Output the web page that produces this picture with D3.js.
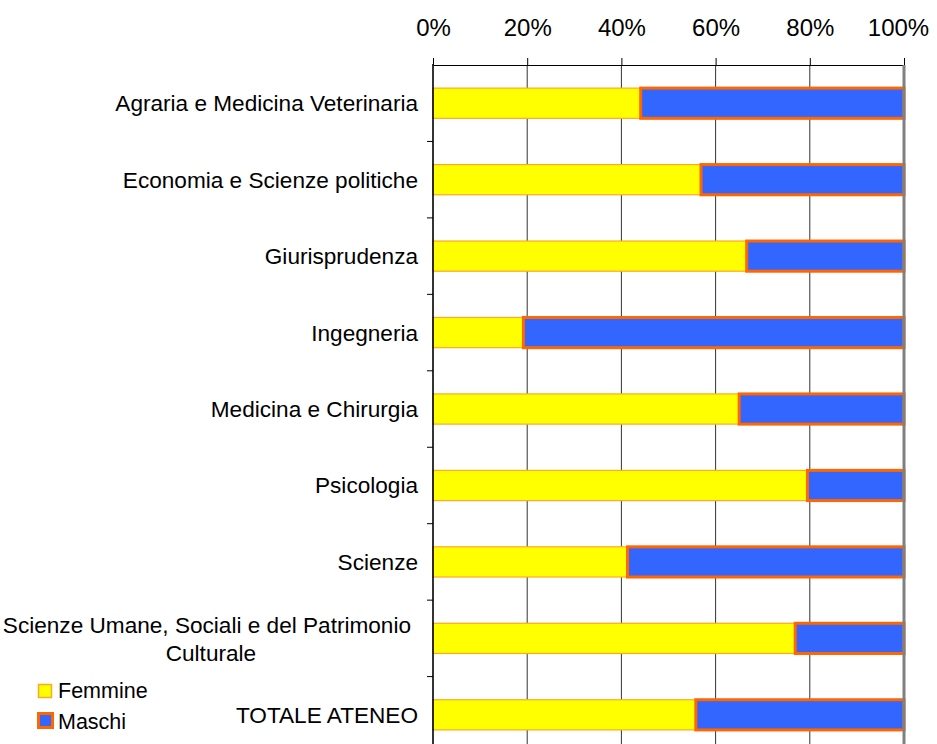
<!DOCTYPE html>
<html>
<head>
<meta charset="utf-8">
<script src="https://cdn.jsdelivr.net/npm/d3@7"></script>
<style>
  html, body { margin: 0; padding: 0; background: #fff; }
  svg { display: block; font-family: "Liberation Sans", Arial, sans-serif; }
</style>
</head>
<body>
<svg id="chart" width="937" height="744"></svg>
<script>
const categories = [
  "Agraria e Medicina Veterinaria",
  "Economia e Scienze politiche",
  "Giurisprudenza",
  "Ingegneria",
  "Medicina e Chirurgia",
  "Psicologia",
  "Scienze",
  "Scienze Umane, Sociali e del Patrimonio|Culturale",
  "TOTALE ATENEO"
];
const femmine = [44.1, 56.9, 66.6, 19.2, 65.0, 79.5, 41.3, 76.9, 55.8];
const maschi  = [55.9, 43.1, 33.4, 80.8, 35.0, 20.5, 58.7, 23.1, 44.2];
const tickValues = [0, 20, 40, 60, 80, 100];
const seriesNames = ["Femmine", "Maschi"];

(function () {
const svg = d3.select("#chart");
const mLeft = 433, mRight = 904, mTop = 65;
const step = 76.45;
const x = d3.scaleLinear().domain([0, 100]).range([mLeft, mRight]);
const y = d3.scaleBand().domain(d3.range(categories.length))
  .range([mTop, mTop + step * categories.length]).padding(0);
const barH = y.bandwidth() * 0.395;

// gridlines
svg.append("g").selectAll("line")
  .data(tickValues.filter(v => v > 0 && v < 100))
  .join("line")
  .attr("x1", d => x(d)).attr("x2", d => x(d))
  .attr("y1", mTop).attr("y2", 744)
  .attr("stroke", "#333").attr("stroke-width", 1);

// top axis
const xAxis = d3.axisTop(x).tickValues(tickValues).tickFormat(d => d + "%").tickSize(7).tickPadding(22);
const gx = svg.append("g").attr("transform", `translate(0,${mTop})`).call(xAxis);
gx.select(".domain").attr("stroke", "#000");
gx.selectAll(".tick line").attr("stroke", "#000");
gx.selectAll(".tick text").attr("font-size", 24).attr("fill", "#000")
  .attr("font-family", "Liberation Sans, Arial, sans-serif")
  .attr("dx", d => d === 100 ? -6 : 0);

// stacked bars
const stackData = categories.map((c, i) => ({ i, Femmine: femmine[i], Maschi: maschi[i] }));
const stacked = d3.stack().keys(seriesNames)(stackData);
const fills = { Femmine: "#FFFF00", Maschi: "#3366FF" };
const strokes = { Femmine: "#FFA826", Maschi: "#FF6600" };
const widths = { Femmine: 1.2, Maschi: 3 };

stacked.forEach(s => {
  svg.append("g").selectAll("rect").data(s).join("rect")
    .attr("x", d => x(d[0]))
    .attr("width", d => x(d[1]) - x(d[0]))
    .attr("y", d => y(d.data.i) + y.bandwidth() / 2 - barH / 2)
    .attr("height", barH)
    .attr("fill", fills[s.key])
    .attr("stroke", strokes[s.key])
    .attr("stroke-width", widths[s.key]);
});

// right border (100%)
svg.append("line")
  .attr("x1", x(100)).attr("x2", x(100)).attr("y1", mTop).attr("y2", 744)
  .attr("stroke", "#808080").attr("stroke-width", 3);

// left axis
const gy = svg.append("g").attr("transform", `translate(${mLeft},0)`);
gy.append("line").attr("x1", 0).attr("x2", 0).attr("y1", mTop - 1).attr("y2", 744)
  .attr("stroke", "#000").attr("stroke-width", 1.6);
gy.selectAll("line.t").data(d3.range(1, categories.length)).join("line")
  .attr("class", "t")
  .attr("x1", -6).attr("x2", 0)
  .attr("y1", d => y(d)).attr("y2", d => y(d))
  .attr("stroke", "#000").attr("stroke-width", 1);

// category labels
const labelRight = 418;
const fs = 22.6;
categories.forEach((c, i) => {
  const lines = c.split("|");
  const cy = y(i) + y.bandwidth() / 2;
  if (lines.length === 1) {
    svg.append("text").attr("x", labelRight).attr("y", cy + 8)
      .attr("text-anchor", "end").attr("font-size", fs).attr("fill", "#000").text(c);
  } else {
    const t1 = svg.append("text").attr("y", cy - 5)
      .attr("text-anchor", "middle").attr("font-size", fs).attr("fill", "#000").text(lines[0]);
    const w = t1.node().getComputedTextLength();
    const cx = labelRight - 7 - w / 2;
    t1.attr("x", cx);
    svg.append("text").attr("x", cx + 4).attr("y", cy + 23)
      .attr("text-anchor", "middle").attr("font-size", fs).attr("fill", "#000").text(lines[1]);
  }
});

// legend
const legend = svg.append("g");
seriesNames.forEach((name, i) => {
  const ly = 698 + i * 31;
  if (name === "Femmine") {
    legend.append("rect").attr("x", 38.5).attr("y", ly - 13.5).attr("width", 13).attr("height", 13)
      .attr("fill", fills[name]).attr("stroke", strokes[name]).attr("stroke-width", 1.5);
  } else {
    legend.append("rect").attr("x", 38.5).attr("y", ly - 15.5).attr("width", 14).attr("height", 14)
      .attr("fill", fills[name]).attr("stroke", strokes[name]).attr("stroke-width", 3);
  }
  legend.append("text").attr("x", 58).attr("y", ly).attr("font-size", 21.5).attr("fill", "#000").text(name);
});
})();
</script>
</body>
</html>
